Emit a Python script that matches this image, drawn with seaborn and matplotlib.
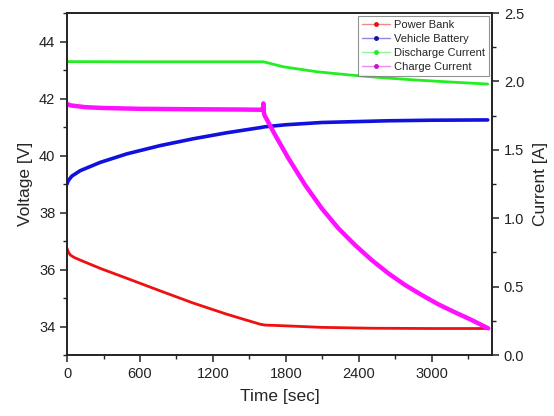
import pandas as pd
import matplotlib.pyplot as plt
import seaborn as sns
from matplotlib.lines import Line2D
from matplotlib.ticker import MultipleLocator

sns.set_style("ticks")
plt.rcParams["font.family"] = ["Liberation Sans", "DejaVu Sans"]

# values
t_red = [0, 10, 27, 60, 109, 273, 493, 767, 1040, 1315, 1589, 1629, 1700, 1821, 2095, 2506, 3000, 3460]
power_bank = [36.74, 36.62, 36.51, 36.42, 36.33, 36.04, 35.69, 35.25, 34.82, 34.43, 34.08, 34.05, 34.04, 34.02, 33.97, 33.94, 33.93, 33.93]

t_blue = [0, 10, 40, 109, 273, 493, 767, 1040, 1315, 1589, 1629, 1800, 2095, 2643, 3000, 3460]
vehicle_battery = [39.0, 39.12, 39.28, 39.47, 39.76, 40.06, 40.35, 40.59, 40.8, 40.98, 41.01, 41.08, 41.16, 41.22, 41.24, 41.25]

t_green = [0, 600, 1200, 1615, 1780, 2054, 2328, 2601, 2876, 3150, 3460]
discharge_current = [2.145, 2.144, 2.144, 2.144, 2.107, 2.071, 2.047, 2.027, 2.01, 1.996, 1.981]

t_pink = [0, 30, 150, 300, 600, 1000, 1400, 1600, 1612, 1615, 1618, 1624, 1712, 1821, 1958, 2095,
          2232, 2369, 2506, 2643, 2780, 2917, 3053, 3191, 3328, 3464]
charge_current = [1.835, 1.825, 1.812, 1.806, 1.8, 1.797, 1.795, 1.793, 1.80, 1.84, 1.78, 1.754, 1.608, 1.438,
                  1.243, 1.072, 0.926, 0.804, 0.694, 0.597, 0.512, 0.439, 0.371, 0.312, 0.256, 0.195]

c_red, c_blue, c_green, c_pink = "#ee1111", "#1111dd", "#22ee22", "#ff11ff"

fig = plt.figure(figsize=(5.54, 4.16), dpi=100)
ax = fig.add_axes([0.121, 0.1466, 0.767, 0.822])
ax2 = ax.twinx()

sns.lineplot(x=t_red, y=power_bank, ax=ax, color=c_red, linewidth=2.0)
sns.lineplot(x=t_blue, y=vehicle_battery, ax=ax, color=c_blue, linewidth=2.6)
sns.lineplot(x=t_green, y=discharge_current, ax=ax2, color=c_green, linewidth=2.0)
sns.lineplot(x=t_pink, y=charge_current, ax=ax2, color=c_pink, linewidth=3.2)

ax.set_xlim(0, 3495)
ax.set_ylim(33, 45)
ax2.set_ylim(0, 2.5)

ax.xaxis.set_major_locator(MultipleLocator(600))
ax.xaxis.set_minor_locator(MultipleLocator(300))
ax.yaxis.set_major_locator(MultipleLocator(2))
ax.yaxis.set_minor_locator(MultipleLocator(1))
ax2.yaxis.set_major_locator(MultipleLocator(0.5))
ax2.yaxis.set_minor_locator(MultipleLocator(0.25))
ax2.yaxis.set_major_formatter(plt.FormatStrFormatter("%.1f"))

for a in (ax, ax2):
    a.tick_params(which="major", direction="out", length=5, width=1.1, labelsize=10.5, colors="#222222")
    a.tick_params(which="minor", direction="out", length=3, width=1.0, colors="#222222")
    for s in a.spines.values():
        s.set_visible(True)
        s.set_linewidth(1.2)
        s.set_color("#222222")

ax.set_xlabel("Time [sec]", fontsize=12.5, labelpad=6)
ax.set_ylabel("Voltage [V]", fontsize=12.5, labelpad=4)
ax2.set_ylabel("Current [A]", fontsize=12.5, labelpad=6)

labels = ["Power Bank", "Vehicle Battery", "Discharge Current", "Charge Current"]
pale = ["#f08a8a", "#8a8ae0", "#9af09a", "#f08af0"]
dark = [c_red, "#1111aa", c_green, "#cc11cc"]
handles = [Line2D([0], [0], color=p, linewidth=1.0, marker="o", markersize=2.5,
                  markerfacecolor=d, markeredgecolor=d) for p, d in zip(pale, dark)]
leg = ax2.legend(handles, labels, loc="upper right", fontsize=8, frameon=True, fancybox=False,
                 borderaxespad=0.3, handlelength=2.6, handletextpad=0.3, labelspacing=0.35,
                 borderpad=0.35)
leg.get_frame().set_edgecolor("#777777")
leg.get_frame().set_linewidth(0.8)

fig.savefig("out.png", dpi=100)
